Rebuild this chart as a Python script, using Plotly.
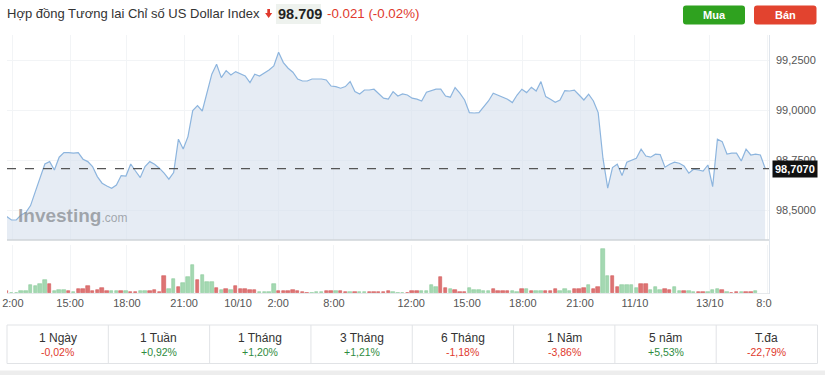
import plotly.graph_objects as go

W, H = 825, 375

# ---------------- data ----------------
price = [98.467, 98.450, 98.450, 98.475, 98.487, 98.522, 98.592, 98.667, 98.730, 98.742,
         98.700, 98.764, 98.787, 98.787, 98.784, 98.787, 98.754, 98.742, 98.717, 98.667,
         98.634, 98.620, 98.609, 98.625, 98.672, 98.670, 98.730, 98.695, 98.662, 98.717,
         98.742, 98.729, 98.709, 98.684, 98.654, 98.687, 98.854, 98.805, 98.867, 98.997,
         99.022, 98.995, 99.092, 99.179, 99.229, 99.162, 99.197, 99.175, 99.192, 99.180,
         99.170, 99.137, 99.179, 99.170, 99.184, 99.200, 99.220, 99.289, 99.237, 99.209,
         99.189, 99.155, 99.145, 99.145, 99.155, 99.155, 99.155, 99.150, 99.120, 99.117,
         99.109, 99.117, 99.142, 99.092, 99.080, 99.100, 99.100, 99.104, 99.079, 99.059,
         99.055, 99.092, 99.070, 99.080, 99.075, 99.059, 99.054, 99.045, 99.089, 99.095,
         99.104, 99.104, 99.070, 99.064, 99.112, 99.084, 99.050, 98.987, 98.985, 98.987,
         99.017, 99.045, 99.084, 99.075, 99.067, 99.054, 99.037, 99.075, 99.104, 99.087,
         99.114, 99.095, 99.142, 99.067, 99.054, 99.039, 99.050, 99.097, 99.095, 99.099,
         99.075, 99.050, 99.079, 99.045, 98.987, 98.759, 98.609, 98.712, 98.729, 98.672,
         98.739, 98.749, 98.759, 98.804, 98.770, 98.764, 98.779, 98.777, 98.714, 98.729,
         98.739, 98.734, 98.720, 98.684, 98.704, 98.700, 98.695, 98.725, 98.617, 98.854,
         98.842, 98.780, 98.784, 98.784, 98.745, 98.804, 98.775, 98.779, 98.775, 98.709]

volume = [5, 1, 1, 6, 5, 23, 21, 26, 38, 26, 5, 10, 10, 5, 3, 13, 11, 21, 6, 8,
          16, 5, 5, 5, 5, 7, 3, 3, 5, 5, 5, 10, 3, 50, 11, 43, 19, 30, 47, 83,
          40, 53, 33, 32, 16, 8, 13, 8, 21, 13, 11, 10, 9, 3, 2, 2, 26, 7, 7, 7,
          9, 5, 3, 1, 1, 2, 3, 5, 5, 5, 5, 2, 2, 3, 2, 2, 2, 3, 3, 3,
          5, 2, 1, 1, 1, 5, 5, 7, 5, 23, 19, 48, 16, 13, 8, 4, 2, 16, 9, 9,
          7, 7, 13, 7, 7, 5, 5, 2, 11, 11, 7, 7, 7, 5, 5, 13, 7, 11, 5, 11,
          13, 15, 23, 11, 18, 133, 50, 50, 18, 25, 25, 25, 16, 28, 26, 10, 18, 10, 13, 10,
          18, 7, 7, 5, 3, 2, 4, 3, 9, 11, 9, 3, 1, 2, 4, 2, 4, 7]
direction = list("rgggggggg" "rgggr" "grrrrrrr" "ggrgrrggr" "rrrgg" "rgggrgggrgrgrrrrrgggg"
                 "rrrrrrrgggrrgrrgrggrrrrrg" "g"
                 "grrrgggg" "rrgrrrgggggrrrrggrgrggrrrgggrrrgrrggrrggggrrggg"
                 "rrggrggrrgggrgrrgrrgrg")

tick_pos = [1.3, 13.3, 25.2, 37.2, 48.5, 56.9, 68.6, 84.8, 96.5, 108.2, 120.2, 131.7, 147.4, 159.4]
tick_lbl = ["2:00", "15:00", "18:00", "21:00", "10/10", "2:00", "8:00", "12:00",
            "15:00", "18:00", "21:00", "11/10", "13/10", "8:00"]

y_ticks = [98.50, 98.75, 99.00, 99.25]
y_tick_lbl = ["98,5000", "98,7500", "99,0000", "99,2500"]

last_price = 98.707
last_price_lbl = "98,7070"

title = "Hợp đồng Tương lai Chỉ số US Dollar Index"
quote = "98.709"
change = "-0.021 (-0.02%)"

periods = ["1 Ngày", "1 Tuần", "1 Tháng", "3 Tháng", "6 Tháng", "1 Năm", "5 năm", "T.đa"]
perf = ["-0,02%", "+0,92%", "+1,20%", "+1,21%", "-1,18%", "-3,86%", "+5,53%", "-22,79%"]

# ---------------- helpers ----------------
def px(x):
    return x / W

def py(y):
    return 1 - y / H

FONT = "Liberation Sans, Arial, sans-serif"
RED = "#e0392d"
GREEN = "#2e8b3e"

n = len(price)
vn = min(len(volume), len(direction))
xs = list(range(n))
vx = list(range(vn))
bar_col = ["#a4d8b2" if d == "g" else "#dd7474" for d in direction[:vn]]
bar_line = ["#8ccb9c" if d == "g" else "#d45a5a" for d in direction[:vn]]

X0, X1 = 7, 769
xr = [(X0 - 6.7) / 4.77, (X1 - 6.7) / 4.77]

fig = go.Figure()
fig.add_trace(go.Scatter(x=xs, y=price, mode="lines", fill="tozeroy",
                         line=dict(color="#8db5de", width=1.2),
                         fillcolor="rgba(214,224,237,0.62)",
                         xaxis="x", yaxis="y", hoverinfo="skip"))
fig.add_trace(go.Bar(x=vx, y=volume[:vn], marker=dict(color=bar_col, line=dict(color=bar_line, width=0.6)),
                     width=0.72, xaxis="x2", yaxis="y2", hoverinfo="skip"))

fig.update_layout(
    width=W, height=H, margin=dict(l=0, r=0, t=0, b=0, pad=0, autoexpand=False),
    paper_bgcolor="white", plot_bgcolor="white", showlegend=False,
    font=dict(family=FONT, color="#555"),
    xaxis=dict(domain=[px(X0), px(X1)], range=xr, tickvals=tick_pos, showticklabels=False,
               showgrid=True, gridcolor="#f2f4f6", gridwidth=1, zeroline=False, automargin=False),
    yaxis=dict(domain=[py(240), py(35)], range=[98.35, 99.375], side="right", anchor="x",
               tickvals=y_ticks, ticktext=y_tick_lbl, showgrid=True, gridcolor="#f2f4f6",
               zeroline=False, tickfont=dict(size=11, color="#555", family=FONT),
               ticklabelstandoff=6, automargin=False),
    xaxis2=dict(domain=[px(X0), px(X1)], range=xr, anchor="y2", tickvals=tick_pos,
                ticktext=tick_lbl, showgrid=True, gridcolor="#f2f4f6", zeroline=False,
                tickfont=dict(size=11, color="#555", family=FONT), ticks="", ticklabelstandoff=2,
                automargin=False),
    yaxis2=dict(domain=[py(293), py(245)], range=[0, 144], anchor="x2", showticklabels=False,
                showgrid=False, zeroline=False, automargin=False),
    bargap=0,
)

shapes = []
shapes.append(dict(type="line", xref="paper", yref="paper", x0=px(X0), x1=px(X1 + 1), y0=py(240), y1=py(240),
                   line=dict(color="#cfd4d9", width=1.3)))
shapes.append(dict(type="line", xref="paper", yref="paper", x0=px(X0), x1=px(X1), y0=py(293.5), y1=py(293.5),
                   line=dict(color="#e6e9ec", width=1)))
shapes.append(dict(type="line", xref="paper", yref="paper", x0=px(X1 + 0.5), x1=px(X1 + 0.5), y0=py(35), y1=py(294),
                   line=dict(color="#dfe5ec", width=1)))
shapes.append(dict(type="line", xref="paper", yref="y", x0=px(X0), x1=px(X1), y0=last_price, y1=last_price,
                   line=dict(color="#555", width=1.2, dash="dash")))
shapes.append(dict(type="rect", xref="paper", yref="paper", x0=px(772), x1=1, y0=py(315), y1=py(295),
                   fillcolor="white", line=dict(width=0), layer="above"))
shapes.append(dict(type="rect", xref="paper", yref="paper", x0=px(276), x1=px(321), y0=py(24), y1=py(4),
                   fillcolor="#eef2ee", line=dict(width=0)))

def P(x, y):
    return f"{px(x):.5f},{py(y):.5f}"

arrow = ("M " + P(267.3, 9) + " L " + P(270.0, 9) + " L " + P(270.0, 13) + " L " + P(272.2, 13)
         + " L " + P(268.65, 18) + " L " + P(265.1, 13) + " L " + P(267.3, 13) + " Z")
shapes.append(dict(type="path", xref="paper", yref="paper", path=arrow, fillcolor=RED, line=dict(width=0)))

def rrect(x0, y0, x1, y1, r):
    pts = [f"M {P(x0 + r, y0)}", f"L {P(x1 - r, y0)}", f"Q {P(x1, y0)} {P(x1, y0 + r)}",
           f"L {P(x1, y1 - r)}", f"Q {P(x1, y1)} {P(x1 - r, y1)}", f"L {P(x0 + r, y1)}",
           f"Q {P(x0, y1)} {P(x0, y1 - r)}", f"L {P(x0, y0 + r)}", f"Q {P(x0, y0)} {P(x0 + r, y0)}", "Z"]
    return " ".join(pts)

shapes.append(dict(type="path", xref="paper", yref="paper", path=rrect(683, 5.5, 745, 24.5, 3),
                   fillcolor="#2fa21f", line=dict(width=0)))
shapes.append(dict(type="path", xref="paper", yref="paper", path=rrect(754, 5.5, 816.5, 24.5, 3),
                   fillcolor="#e2432f", line=dict(width=0)))

cx0, cx1 = 7, 817.5
cw = (cx1 - cx0) / len(periods)
shapes.append(dict(type="rect", xref="paper", yref="paper", x0=px(cx0), x1=px(cx1), y0=py(363.5), y1=py(325),
                   line=dict(color="#e1e3e6", width=1), fillcolor="white"))
for i in range(1, len(periods)):
    xx = cx0 + i * cw
    shapes.append(dict(type="line", xref="paper", yref="paper", x0=px(xx), x1=px(xx), y0=py(363.5), y1=py(325),
                       line=dict(color="#e1e3e6", width=1)))
shapes.append(dict(type="rect", xref="paper", yref="paper", x0=0, x1=1, y0=0, y1=py(370.5),
                   fillcolor="#ededed", line=dict(width=0)))

fig.update_layout(shapes=shapes)

def A(text, x, y, size, color, xanchor="center", yanchor="middle", **kw):
    return dict(text=text, x=px(x), y=py(y), xref="paper", yref="paper", xanchor=xanchor, yanchor=yanchor,
                showarrow=False, font=dict(size=size, color=color, family=FONT), **kw)

ann = []
ann.append(A(title, 5, 13.5, 13, "#333", xanchor="left"))
ann.append(A(f"<b>{quote}</b>", 275.5, 14, 14.5, "#222", xanchor="left"))
ann.append(A(change, 325, 14, 13.3, RED, xanchor="left"))
ann.append(A("<b>Mua</b>", 714, 15, 11, "white"))
ann.append(A("<b>Bán</b>", 785.3, 15, 11, "white"))
ann.append(A("<b>Investing</b><span style='font-size:12px;font-weight:normal'>.com</span>",
             16, 216, 19, "rgba(140,145,150,0.78)", xanchor="left"))
ann.append(dict(text=f"<b>{last_price_lbl}</b>", x=px(771.5), y=last_price, xref="paper", yref="y",
                xanchor="left", yanchor="middle", showarrow=False, bgcolor="#111", borderpad=2,
                font=dict(size=11, color="white", family=FONT)))
for i, (p, v) in enumerate(zip(periods, perf)):
    cxm = cx0 + (i + 0.5) * cw
    ann.append(A(p, cxm, 337.5, 12, "#333"))
    ann.append(A(v, cxm, 352, 10.5, RED if v.startswith("-") else GREEN))

fig.update_layout(annotations=ann)
fig.write_html("out.html", config={"displayModeBar": False},
               post_script="document.body.style.margin='0';document.body.style.overflow='hidden';")
